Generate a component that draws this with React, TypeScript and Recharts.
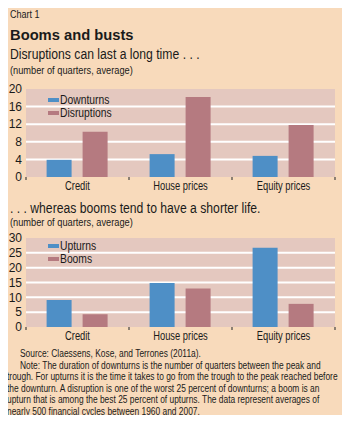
import React from 'react';
import { BarChart, Bar, XAxis, YAxis, CartesianGrid } from 'recharts';

// Values (number of quarters, average)
const CATEGORIES = ['Credit', 'House prices', 'Equity prices'];
const DOWNTURNS = [3.9, 5.2, 4.8];
const DISRUPTIONS = [10.3, 18.2, 11.8];
const UPTURNS = [9.1, 14.8, 26.7];
const BOOMS = [4.3, 13.0, 7.8];
const TICKS_TOP = [0, 4, 8, 12, 16, 20];
const TICKS_BOTTOM = [0, 5, 10, 15, 20, 25, 30];

const NOTE_LINES = [
  'trough. For upturns it is the time it takes to go from the trough to the peak reached before',
  'the downturn. A disruption is one of the worst 25 percent of downturns; a boom is an',
  'upturn that is among the best 25 percent of upturns. The data represent averages of',
  'nearly 500 financial cycles between 1960 and 2007.',
];

const BLUE = '#4e8fc6';
const MAUVE = '#b57a80';
const PEACH = '#f8dabb';
const PLOT_BG = '#e4c8bf';
const INK = '#1a1a1a';
const FONT = '"Liberation Sans", Arial, sans-serif';

const W = 350;
const Y_W = 25;
const RIGHT = 16;
const HALF_BAND = (W - Y_W - RIGHT) / CATEGORIES.length / 2;

const topData = CATEGORIES.map((name, i) => ({ name, a: DOWNTURNS[i], b: DISRUPTIONS[i] }));
const bottomData = CATEGORIES.map((name, i) => ({ name, a: UPTURNS[i], b: BOOMS[i] }));

// condensed-looking text: Arial squeezed horizontally
const T = ({ x, y, size, sx = 0.86, bold = false, children }: any) => (
  <div
    style={{
      position: 'absolute',
      left: x,
      top: y,
      fontFamily: FONT,
      fontSize: size,
      fontWeight: bold ? 'bold' : 'normal',
      color: INK,
      whiteSpace: 'nowrap',
      lineHeight: 1,
      transform: `scaleX(${sx})`,
      transformOrigin: 'left top',
    }}
  >
    {children}
  </div>
);

// category label plus the small marks at the band edges
const CatTick = ({ x, y, payload, index }: any) => (
  <g>
    {index === 0 && <line x1={x - HALF_BAND} x2={x - HALF_BAND} y1={y - 8} y2={y - 5} stroke="#444" strokeWidth={1.2} />}
    <line x1={x + HALF_BAND} x2={x + HALF_BAND} y1={y - 8} y2={y - 5} stroke="#444" strokeWidth={1.2} />
    <text
      transform={`translate(${x},${y + 5}) scale(0.78,1)`}
      textAnchor="middle"
      fill={INK}
      fontSize={12}
      fontFamily={FONT}
    >
      {payload.value}
    </text>
  </g>
);

const LegendItem = ({ x, y, color, label }: any) => (
  <>
    <div style={{ position: 'absolute', left: x, top: y - 2, width: 11, height: 4, background: color }} />
    <T x={x + 12} y={y - 6} size={12} sx={0.86}>
      {label}
    </T>
  </>
);

const Panel = ({ data, ticks, max, top, marginTop, plotH }: any) => (
  <div style={{ position: 'absolute', left: 0, top }}>
    <BarChart
      width={W}
      height={marginTop + plotH + 20}
      data={data}
      margin={{ top: marginTop, right: RIGHT, left: 0, bottom: 0 }}
      barCategoryGap="20%"
      barGap={11}
    >
      <CartesianGrid
        fill={PLOT_BG}
        fillOpacity={1}
        vertical={false}
        horizontalValues={ticks.slice(1, -1)}
        stroke="#fff"
        strokeWidth={2}
        strokeOpacity={1}
      />
      <XAxis dataKey="name" axisLine={false} tickLine={false} tick={<CatTick />} height={20} interval={0} />
      <YAxis
        width={Y_W}
        domain={[0, max]}
        ticks={ticks}
        axisLine={false}
        tickLine={false}
        tickSize={0}
        tickMargin={4}
        tick={{ fill: INK, fontSize: 12, fontFamily: FONT }}
        interval={0}
      />
      <Bar dataKey="a" fill={BLUE} isAnimationActive={false} />
      <Bar dataKey="b" fill={MAUVE} isAnimationActive={false} />
    </BarChart>
  </div>
);

export default function App() {
  return (
    <div
      style={{
        position: 'relative',
        width: 348,
        height: 420,
        margin: -8,
        background: PEACH,
        border: '1px solid #f6e6d6',
        borderBottomWidth: 2,
        overflow: 'hidden',
      }}
    >
      <T x={9} y={9} size={10} sx={0.9}>Chart 1</T>
      <T x={9} y={26} size={15.5} sx={0.95} bold>Booms and busts</T>
      <T x={9} y={46} size={14} sx={0.87}>Disruptions can last a long time . . .</T>
      <T x={9} y={64} size={10.5} sx={0.88}>(number of quarters, average)</T>

      <Panel data={topData} ticks={TICKS_TOP} max={20} top={79} marginTop={9} plotH={88} />
      <LegendItem x={47} y={99} color={BLUE} label="Downturns" />
      <LegendItem x={47} y={112} color={MAUVE} label="Disruptions" />

      <T x={9} y={200} size={14} sx={0.87}>. . . whereas booms tend to have a shorter life.</T>
      <T x={9} y={216} size={10.5} sx={0.88}>(number of quarters, average)</T>

      <Panel data={bottomData} ticks={TICKS_BOTTOM} max={30} top={229} marginTop={8} plotH={89} />
      <LegendItem x={47} y={245} color={BLUE} label="Upturns" />
      <LegendItem x={47} y={258} color={MAUVE} label="Booms" />

      <T x={19} y={348} size={10} sx={0.84}>Source: Claessens, Kose, and Terrones (2011a).</T>
      <T x={19} y={359.5} size={10} sx={0.84}>
        Note: The duration of downturns is the number of quarters between the peak and
      </T>
      {NOTE_LINES.map((line, i) => (
        <T key={i} x={6} y={371 + i * 11.6} size={10} sx={0.84}>
          {line}
        </T>
      ))}
    </div>
  );
}
